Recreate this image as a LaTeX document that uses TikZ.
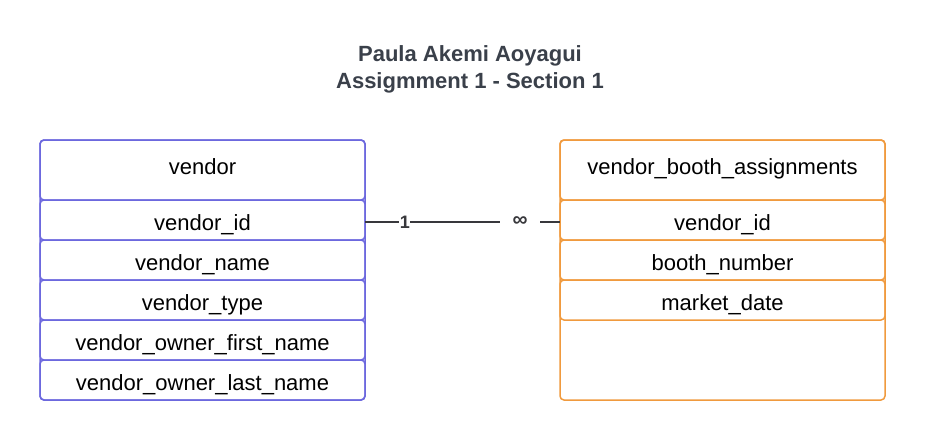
\documentclass[tikz,border=0pt]{standalone}
\usepackage{fontspec}
\setmainfont{Liberation Sans}
\usepackage{xcolor}
\usetikzlibrary{positioning}

\definecolor{vendorblue}{RGB}{108,104,222}
\definecolor{boothorange}{RGB}{240,154,62}
\definecolor{titlegray}{RGB}{58,64,74}
\definecolor{linkgray}{RGB}{56,56,60}

\begin{document}
\begin{tikzpicture}[
  x=1pt, y=1pt,
  font=\fontsize{22}{26}\selectfont,
  node distance=0pt,
  every node/.style={align=center},
  cell/.style={draw, rounded corners=4pt, line width=1.5pt, minimum width=325pt,
    minimum height=40pt, inner sep=0pt, outer sep=0pt, text height=20pt, text depth=0pt},
  headcell/.style={minimum height=60pt, text height=15pt, text depth=7pt},
  vcell/.style={cell, draw=vendorblue},
  bcell/.style={cell, draw=boothorange},
  link/.style={line width=1.3pt, draw=linkgray},
  card/.style={fill=white, text=linkgray, font=\fontsize{18}{20}\selectfont\bfseries, inner sep=0.5pt},
]
\useasboundingbox (0,0) rectangle (925,440);

% title
\node[font=\fontsize{22}{27}\selectfont\bfseries, text=titlegray] (title) at (470,371)
  {Paula Akemi Aoyagui\\Assigmment 1 - Section 1};

% vendor table
\node[vcell, minimum height=260pt] (vframe) at (202.5,170) {};
\node[vcell, headcell, below=of vframe.north] (vendor) {vendor};
\node[vcell, below=of vendor] (vid) {vendor\_id};
\node[vcell, below=of vid] (vname) {vendor\_name};
\node[vcell, below=of vname] (vtype) {vendor\_type};
\node[vcell, below=of vtype] (vfirst) {vendor\_owner\_first\_name};
\node[vcell, below=of vfirst] (vlast) {vendor\_owner\_last\_name};

% vendor_booth_assignments table
\node[bcell, minimum height=260pt] (bframe) at (722.5,170) {};
\node[bcell, headcell, below=of bframe.north] (booth) {vendor\_booth\_assignments};
\node[bcell, below=of booth] (bvid) {vendor\_id};
\node[bcell, below=of bvid] (bnum) {booth\_number};
\node[bcell, below=of bnum] (bdate) {market\_date};

% relationship
\draw[link] ([yshift=-2pt]vid.east) -- ([yshift=-2pt]bvid.west)
  node[card, pos=0.205] (one) {1}
  node[card, pos=0.795, minimum width=40pt, font=\fontsize{21}{22}\selectfont\bfseries] (many) {∞};

\end{tikzpicture}
\end{document}
